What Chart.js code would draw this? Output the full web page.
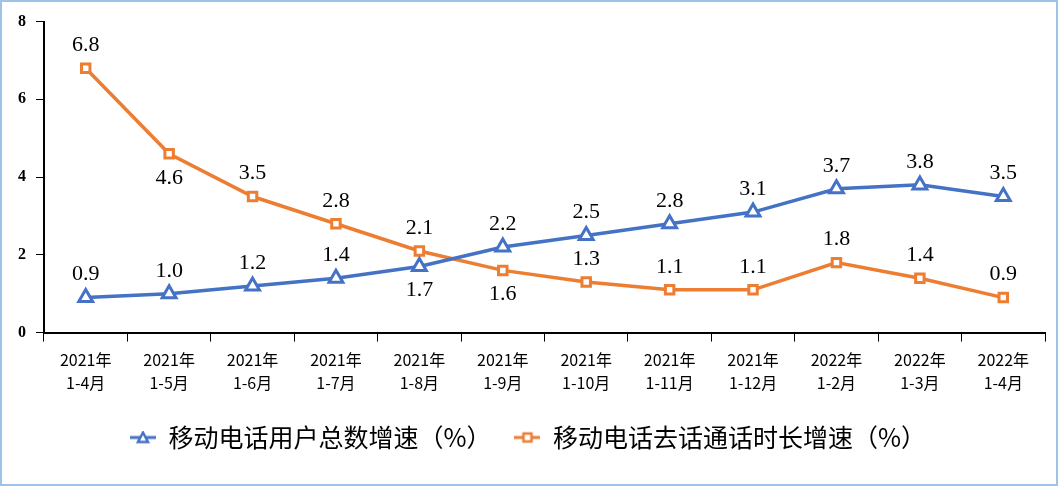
<!DOCTYPE html>
<html>
<head>
<meta charset="utf-8">
<script src="https://cdn.jsdelivr.net/npm/chart.js@4/dist/chart.umd.min.js"></script>
<style>
  html, body { margin: 0; padding: 0; background: #fff; }
  #wrap {
    width: 1058px; height: 486px; box-sizing: border-box;
    border: 2px solid #9dc3e6; background: #fff;
  }
</style>
</head>
<body>
<div id="wrap"><canvas id="grafico" width="1054" height="482"></canvas></div>
<script>
// dados do gráfico
const categorias = [
  ["2021年", "1-4月"], ["2021年", "1-5月"], ["2021年", "1-6月"], ["2021年", "1-7月"],
  ["2021年", "1-8月"], ["2021年", "1-9月"], ["2021年", "1-10月"], ["2021年", "1-11月"],
  ["2021年", "1-12月"], ["2022年", "1-2月"], ["2022年", "1-3月"], ["2022年", "1-4月"]
];
const usuarios = [0.9, 1.0, 1.2, 1.4, 1.7, 2.2, 2.5, 2.8, 3.1, 3.7, 3.8, 3.5];
const chamadas = [6.8, 4.6, 3.5, 2.8, 2.1, 1.6, 1.3, 1.1, 1.1, 1.8, 1.4, 0.9];
const nomeUsuarios = "移动电话用户总数增速（%）";
const nomeChamadas = "移动电话去话通话时长增速（%）";
const yTicks = [0, 2, 4, 6, 8];

const azul = "#4472C4";
const laranja = "#ED7D31";

// onde fica o rótulo de cada ponto (acima / abaixo)
const posUsuarios = ["a", "a", "a", "a", "b", "a", "a", "a", "a", "a", "a", "a"];
const posChamadas = ["a", "b", "a", "a", "a", "b", "a", "a", "a", "a", "a", "a"];

// ícone da legenda: linha + marcador
function iconeLegenda(cor, tipo) {
  const c = document.createElement("canvas");
  c.width = 26; c.height = 14;
  const ctx = c.getContext("2d");
  ctx.strokeStyle = cor;
  ctx.lineWidth = 3;
  ctx.beginPath(); ctx.moveTo(0, 7); ctx.lineTo(26, 7); ctx.stroke();
  ctx.fillStyle = "#fff";
  ctx.lineWidth = 2.5;
  ctx.beginPath();
  if (tipo === "tri") {
    ctx.moveTo(13, 2); ctx.lineTo(18, 11.5); ctx.lineTo(8, 11.5); ctx.closePath();
  } else {
    ctx.rect(9, 3, 8, 8);
  }
  ctx.fill(); ctx.stroke();
  return c;
}

const rotulos = {
  id: "rotulos",
  afterDatasetsDraw(chart) {
    const ctx = chart.ctx;
    const posicoes = [posUsuarios, posChamadas];
    ctx.save();
    ctx.font = "22px 'Liberation Serif', 'Times New Roman', serif";
    ctx.fillStyle = "#000";
    ctx.textAlign = "center";
    ctx.textBaseline = "middle";
    chart.data.datasets.forEach((ds, i) => {
      chart.getDatasetMeta(i).data.forEach((pt, j) => {
        const dy = posicoes[i][j] === "b" ? 24 : -23;
        ctx.fillText(ds.data[j].toFixed(1), pt.x, pt.y + dy);
      });
    });
    ctx.restore();
  }
};

new Chart(document.getElementById("grafico"), {
  type: "line",
  data: {
    labels: categorias,
    datasets: [
      {
        label: nomeUsuarios,
        data: usuarios,
        borderColor: azul,
        backgroundColor: "#fff",
        borderWidth: 3.5,
        pointStyle: "triangle",
        pointRadius: 8,
        pointBorderWidth: 3,
        tension: 0
      },
      {
        label: nomeChamadas,
        data: chamadas,
        borderColor: laranja,
        backgroundColor: "#fff",
        borderWidth: 3.5,
        pointStyle: "rect",
        pointRadius: 6,
        pointBorderWidth: 3,
        tension: 0
      }
    ]
  },
  options: {
    responsive: false,
    animation: false,
    layout: { padding: { top: 7, left: 6, right: 8, bottom: 24 } },
    plugins: {
      legend: {
        position: "bottom",
        labels: {
          usePointStyle: true,
          pointStyleWidth: 26,
          padding: 23,
          color: "#000",
          font: { size: 25, family: "'Noto Sans CJK SC', sans-serif" },
          generateLabels(chart) {
            return [
              { text: nomeUsuarios, pointStyle: iconeLegenda(azul, "tri"), fontColor: "#000", lineWidth: 0, datasetIndex: 0 },
              { text: nomeChamadas, pointStyle: iconeLegenda(laranja, "sq"), fontColor: "#000", lineWidth: 0, datasetIndex: 1 }
            ];
          }
        }
      },
      tooltip: { enabled: false }
    },
    scales: {
      x: {
        offset: true,
        grid: {
          offset: true,
          drawOnChartArea: false,
          color: "#000",
          tickLength: 9,
          tickWidth: 1
        },
        border: { color: "#000", width: 2 },
        ticks: {
          color: "#000",
          maxRotation: 0,
          autoSkip: false,
          padding: 7,
          font: { size: 16, family: "'Noto Sans CJK SC', sans-serif", lineHeight: 1.45 }
        }
      },
      y: {
        min: 0,
        max: 8,
        afterBuildTicks(axis) { axis.ticks = yTicks.map(v => ({ value: v })); },
        grid: {
          drawOnChartArea: false,
          color: "#000",
          tickLength: 8,
          tickWidth: 1
        },
        border: { color: "#000", width: 2 },
        ticks: {
          color: "#000",
          padding: 10,
          font: { size: 16, weight: "bold", family: "'Liberation Serif', 'Times New Roman', serif" }
        }
      }
    }
  },
  plugins: [rotulos]
});
</script>
</body>
</html>
